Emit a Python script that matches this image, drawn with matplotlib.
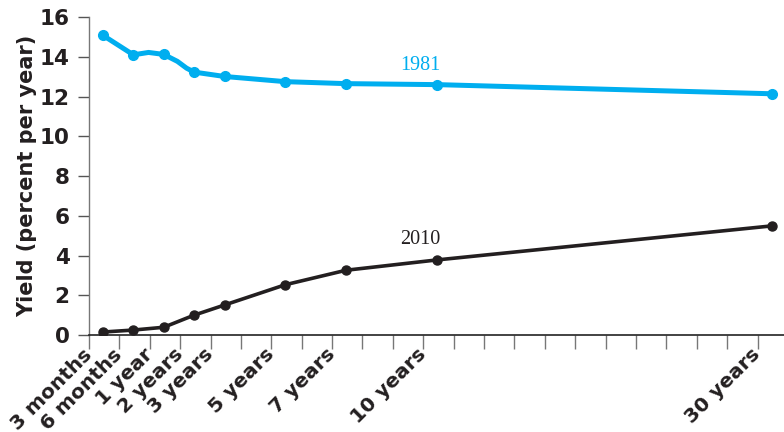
import numpy as np
import matplotlib.pyplot as plt

# Maturities shown on the axis (tick slot index) and their labels
maturity_labels = ['3 months', '6 months', '1 year', '2 years', '3 years',
                   '5 years', '7 years', '10 years', '30 years']
maturity_slots = [0, 1, 2, 3, 4, 6, 8, 11, 22]

# Yield curve values (percent per year)
yield_1981 = [15.08, 14.1, 14.12, 13.23, 13.01, 12.75, 12.65, 12.6, 12.14]
yield_2010 = [0.15, 0.25, 0.39, 1.0, 1.51, 2.53, 3.26, 3.78, 5.49]

# extra unmarked points along the 1981 curve (slot, yield)
curve_1981_extra_slots = [1.5, 2.45, 2.75]
curve_1981_extra = [14.22, 13.77, 13.43]

cyan = '#00AEEF'
dark = '#231F20'
tick_font = 'DejaVu Sans'

fig = plt.figure(figsize=(7.84, 4.32), dpi=100)
ax = fig.add_axes([0.1135, 0.2245, 0.8865, 0.736])

offset = 0.46
x_marks = np.array(maturity_slots) + offset

# 1981 line: merge marked points with the extra curve points
x81 = np.concatenate([x_marks, np.array(curve_1981_extra_slots) + offset])
y81 = np.concatenate([yield_1981, curve_1981_extra])
order = np.argsort(x81)
ax.plot(x81[order], y81[order], color=cyan, lw=3.6, solid_capstyle='round',
        solid_joinstyle='round', zorder=3)
ax.plot(x_marks, yield_1981, 'o', color=cyan, ms=7, zorder=4)

ax.plot(x_marks, yield_2010, '-o', color=dark, lw=2.6, ms=6.5, zorder=3)

ax.text(10.9, 13.55, '1981', color=cyan, fontsize=14.5,
        family='Liberation Serif', ha='center', va='center')
ax.text(10.9, 4.8, '2010', color=dark, fontsize=14.5,
        family='Liberation Serif', ha='center', va='center')

ax.set_xlim(0, 22.87)
ax.set_ylim(0, 16)

for s in ['top', 'right']:
    ax.spines[s].set_visible(False)
ax.spines['left'].set_color('#777777')
ax.spines['left'].set_linewidth(1.0)
ax.spines['bottom'].set_color('#222222')
ax.spines['bottom'].set_linewidth(1.2)

ax.set_yticks(range(0, 17, 2))
ax.tick_params(axis='y', length=8, width=1.0, color='#555555', pad=6,
               labelsize=15.5)
for lab in ax.get_yticklabels():
    lab.set_family(tick_font)
    lab.set_fontweight('bold')
    lab.set_color(dark)

ax.set_xticks(maturity_slots)
ax.set_xticks(range(0, 23), minor=True)
ax.set_xticklabels(maturity_labels, rotation=45, ha='right', va='center',
                   rotation_mode='anchor', family=tick_font,
                   fontweight='bold', fontsize=14.5, color=dark)
ax.tick_params(axis='x', which='both', length=10, width=1.0, color='#777777')
ax.tick_params(axis='x', which='major', pad=2)

ax.set_ylabel('Yield (percent per year)', fontsize=15, fontweight='bold',
              family=tick_font, color=dark, labelpad=2)

fig.savefig('out.png', dpi=100)
